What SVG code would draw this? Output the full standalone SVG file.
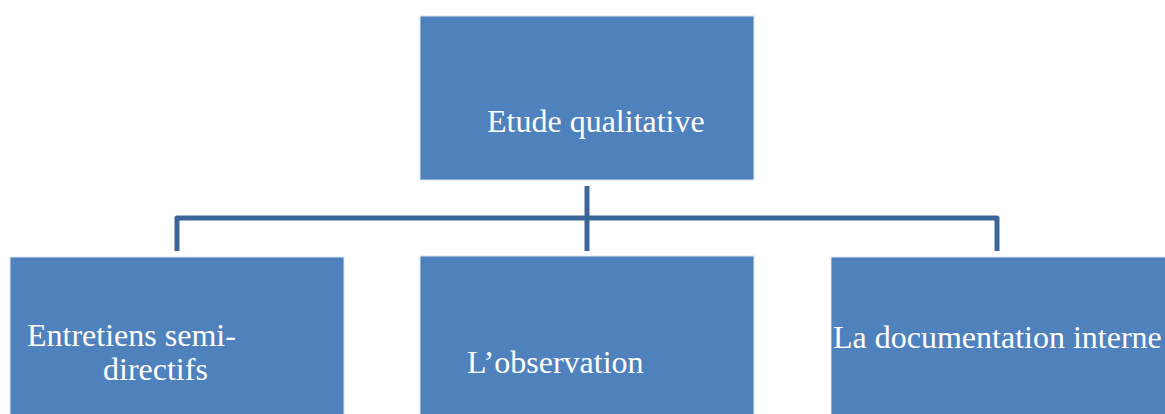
<svg xmlns="http://www.w3.org/2000/svg" width="1165" height="414" viewBox="0 0 1165 414">
  <style>
    .box { fill: #4F81BD; stroke: #DCE6F2; stroke-width: 1; }
    .label { font-family: "Liberation Serif", "Times New Roman", serif; font-size: 32px; fill: #FFFFFF; }
    .link { fill: none; stroke: #3C6696; stroke-width: 5; stroke-linejoin: round; }
  </style>
  <rect width="1165" height="414" fill="#FFFFFF"/>

  <!-- connectors -->
  <g id="connectors">
    <line class="link" x1="587" y1="186" x2="587" y2="251"/>
    <polyline class="link" points="177,251 177,218 997,218 997,251"/>
  </g>

  <g id="node-etude">
    <rect class="box" x="420" y="16" width="334" height="164"/>
    <text class="label" x="487" y="132">Etude qualitative</text>
  </g>

  <g id="node-entretiens">
    <rect class="box" x="10" y="257" width="334" height="160"/>
    <text class="label" x="27" y="346">Entretiens semi-</text>
    <text class="label" x="103" y="380">directifs</text>
  </g>

  <g id="node-observation">
    <rect class="box" x="420" y="256" width="334" height="161"/>
    <text class="label" x="467" y="373">L’observation</text>
  </g>

  <g id="node-documentation">
    <rect class="box" x="831" y="257" width="340" height="160"/>
    <text class="label" x="833" y="348">La documentation interne</text>
  </g>
</svg>
